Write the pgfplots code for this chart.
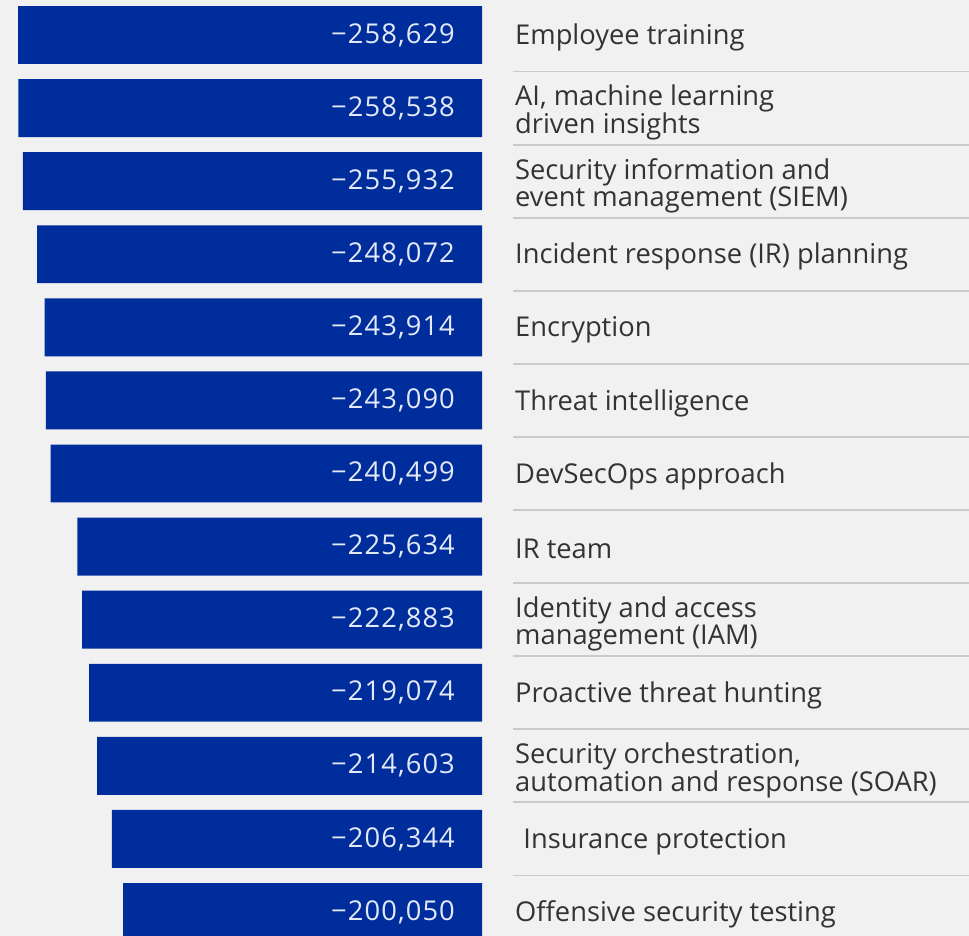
\documentclass[border=0pt]{standalone}
\usepackage{fontspec}
\setmainfont{Open Sans}
\usepackage{pgfplots}
\usepackage{pgfplotstable}
\pgfplotsset{compat=1.18}

\definecolor{barblue}{HTML}{002D9C}
\definecolor{bggray}{HTML}{F1F1F1}
\definecolor{sepgray}{HTML}{CACACA}
\definecolor{labelgray}{HTML}{333333}
\definecolor{valtext}{HTML}{E4E9F8}

% strut that sets two-line labels a little lower in their row
\newcommand{\tl}{\rule{0pt}{25pt}}

% Average cost difference per factor (USD), top to bottom
\pgfplotstableread{
row val
0  -258629
1  -258538
2  -255932
3  -248072
4  -243914
5  -243090
6  -240499
7  -225634
8  -222883
9  -219074
10 -214603
11 -206344
12 -200050
}\costs

\begin{document}
\begin{tikzpicture}
\begin{axis}[
  scale only axis,
  width=969pt, height=936pt,
  xmin=-268673, xmax=271460,
  ymin=-0.479, ymax=12.326,
  y dir=reverse,
  axis line style={draw=none},
  axis background/.style={fill=bggray},
  xtick=\empty,
  ytick={0,...,12},
  major tick length=0pt,
  yticklabels={
    Employee training,
    {\tl AI, machine learning\\driven insights},
    {\tl Security information and\\event management (SIEM)},
    Incident response (IR) planning,
    Encryption,
    Threat intelligence,
    DevSecOps approach,
    IR team,
    {\tl Identity and access\\management (IAM)},
    Proactive threat hunting,
    {\tl Security orchestration,\\automation and response (SOAR)},
    \hspace*{0.3em}Insurance protection,
    Offensive security testing
  },
  yticklabel style={font=\fontsize{27.3}{27}\selectfont, text=labelgray,
    anchor=west, align=left, inner sep=0pt, xshift=515pt, yshift=-2.5pt},
]
% row separators on the label side
\pgfplotsinvokeforeach{0,...,11}{
  \draw[sepgray, line width=1.8pt] (axis cs:17280,#1+0.5) -- (axis cs:271460,#1+0.5);
}
\addplot[xbar, bar width=0.793, bar shift=0pt, fill=barblue, draw=none]
  table[x=val, y=row] {\costs};
% value labels inside the bars, near their right end
\addplot[draw=none,
  point meta={-\thisrow{val}},
  /pgf/number format/fixed,
  /pgf/number format/precision=0,
  /pgf/number format/1000 sep={,},
  /pgf/number format/assume math mode=true,
  nodes near coords={−\pgfmathprintnumber{\pgfplotspointmeta}},
  nodes near coords style={anchor=east, text=valtext, inner sep=0pt,
    font=\fontsize{27.3}{28}\selectfont\addfontfeature{LetterSpace=4}}]
  table[x expr=-15050, y=row] {\costs};
\end{axis}
\end{tikzpicture}
\end{document}
